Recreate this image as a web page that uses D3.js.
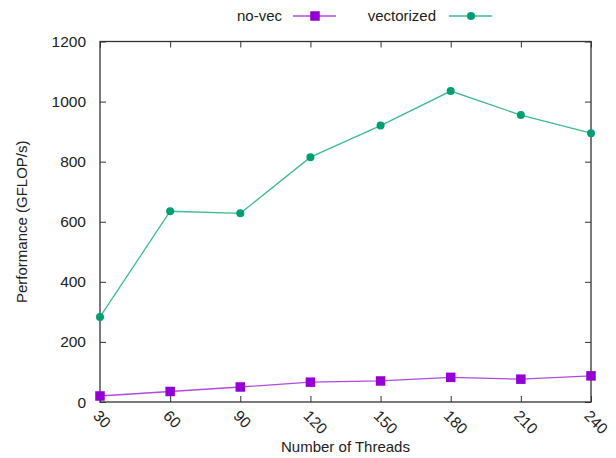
<!DOCTYPE html>
<html>
<head>
<meta charset="utf-8">
<script src="https://cdn.jsdelivr.net/npm/d3@7"></script>
<style>
  body { margin: 0; background: #fff; }
  text { font-family: "Liberation Sans", Arial, sans-serif; fill: #222; }
</style>
</head>
<body>
<svg id="chart" width="616" height="458"></svg>
<script>
"use strict";

// chart data
const threads = [30, 60, 90, 120, 150, 180, 210, 240]
const noVec = [20, 35, 50, 66, 70, 82, 76, 87]
const vectorized = [283, 635, 628, 815, 920, 1035, 955, 895]
const yTicks = [0, 200, 400, 600, 800, 1000, 1200]

const svg = d3.select("#chart")
const margin = { left: 100, right: 25, top: 41.5, bottom: 56 }
const width = 616 - margin.left - margin.right
const height = 458 - margin.top - margin.bottom
const tickLen = 6

const x = d3.scaleLinear().domain([30, 240]).range([0, width])
const y = d3.scaleLinear().domain([0, 1200]).range([height, 0])

const g = svg.append("g")
    .attr("transform", "translate(" + margin.left + "," + margin.top + ")")

// inward ticks on all four sides (gnuplot style mirror)
function styleAxis(sel) {
    sel.select(".domain").remove()
    sel.selectAll(".tick line").attr("stroke", "#333").attr("stroke-width", 1)
}

g.append("g")
    .attr("transform", "translate(0," + height + ")")
    .call(d3.axisBottom(x).tickValues(threads).tickSize(-tickLen).tickFormat(""))
    .call(styleAxis)
g.append("g")
    .call(d3.axisTop(x).tickValues(threads).tickSize(-tickLen).tickFormat(""))
    .call(styleAxis)
g.append("g")
    .call(d3.axisLeft(y).tickValues(yTicks).tickSize(-tickLen).tickFormat(""))
    .call(styleAxis)
g.append("g")
    .attr("transform", "translate(" + width + ",0)")
    .call(d3.axisRight(y).tickValues(yTicks).tickSize(-tickLen).tickFormat(""))
    .call(styleAxis)

// border box
g.append("rect")
    .attr("x", 0).attr("y", 0)
    .attr("width", width).attr("height", height)
    .attr("fill", "none")
    .attr("stroke", "#333")
    .attr("stroke-width", 1.3)

// y tick labels
g.selectAll(".ylab")
    .data(yTicks)
    .enter().append("text")
    .attr("class", "ylab")
    .attr("x", -14)
    .attr("y", function (d) { return y(d) })
    .attr("dy", "0.36em")
    .attr("text-anchor", "end")
    .style("font-size", "15.5px")
    .text(function (d) { return d })

// x tick labels rotated
g.selectAll(".xlab")
    .data(threads)
    .enter().append("text")
    .attr("class", "xlab")
    .attr("transform", function (d) {
        return "translate(" + (x(d) - 4) + "," + (height + 11) + ") rotate(45)"
    })
    .attr("text-anchor", "start")
    .attr("dy", "0.35em")
    .style("font-size", "15.5px")
    .text(function (d) { return d })

// axis titles
svg.append("text")
    .attr("x", margin.left + width / 2)
    .attr("y", 452)
    .attr("text-anchor", "middle")
    .style("font-size", "15px")
    .text("Number of Threads")

svg.append("text")
    .attr("transform", "translate(27," + (margin.top + height / 2) + ") rotate(-90)")
    .attr("text-anchor", "middle")
    .style("font-size", "15px")
    .text("Performance (GFLOP/s)")

// series lines
const line = d3.line()
    .x(function (d, i) { return x(threads[i]) })
    .y(function (d) { return y(d) })

g.append("path")
    .datum(noVec)
    .attr("fill", "none")
    .attr("stroke", "#b04ae0")
    .attr("stroke-width", 1.3)
    .attr("d", line)

g.append("path")
    .datum(vectorized)
    .attr("fill", "none")
    .attr("stroke", "#3dba93")
    .attr("stroke-width", 1.3)
    .attr("d", line)

// markers
const sq = 9.5
const dotR = 4
g.selectAll(".sq")
    .data(noVec)
    .enter().append("rect")
    .attr("class", "sq")
    .attr("x", function (d, i) { return x(threads[i]) - sq / 2 })
    .attr("y", function (d) { return y(d) - sq / 2 })
    .attr("width", sq).attr("height", sq)
    .attr("fill", "#9400d3")

g.selectAll(".dot")
    .data(vectorized)
    .enter().append("circle")
    .attr("class", "dot")
    .attr("cx", function (d, i) { return x(threads[i]) })
    .attr("cy", function (d) { return y(d) })
    .attr("r", dotR)
    .attr("fill", "#009e73")

// legend
const legendY = 16
const legend = svg.append("g")
legend.append("text")
    .attr("x", 282).attr("y", legendY).attr("dy", "0.35em")
    .attr("text-anchor", "end")
    .style("font-size", "15px")
    .text("no-vec")
legend.append("line")
    .attr("x1", 293).attr("x2", 336)
    .attr("y1", legendY).attr("y2", legendY)
    .attr("stroke", "#b04ae0").attr("stroke-width", 1.3)
legend.append("rect")
    .attr("x", 315 - sq / 2).attr("y", legendY - sq / 2)
    .attr("width", sq).attr("height", sq)
    .attr("fill", "#9400d3")

legend.append("text")
    .attr("x", 436).attr("y", legendY).attr("dy", "0.35em")
    .attr("text-anchor", "end")
    .style("font-size", "15px")
    .text("vectorized")
legend.append("line")
    .attr("x1", 449).attr("x2", 492)
    .attr("y1", legendY).attr("y2", legendY)
    .attr("stroke", "#3dba93").attr("stroke-width", 1.3)
legend.append("circle")
    .attr("cx", 471).attr("cy", legendY)
    .attr("r", dotR)
    .attr("fill", "#009e73")
</script>
</body>
</html>
